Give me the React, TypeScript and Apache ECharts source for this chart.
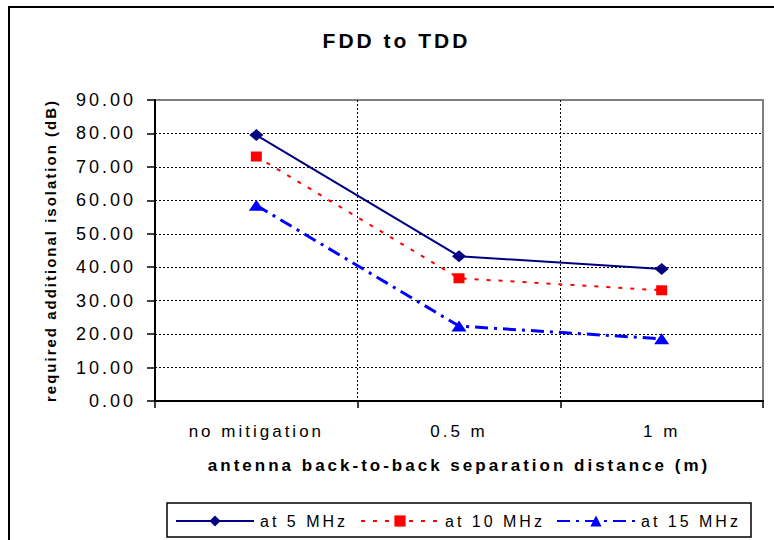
import React, { useEffect, useRef } from "react";
import * as echarts from "echarts";

const titleText = "FDD to TDD";
const categories = ["no mitigation", "0.5 m", "1 m"];
const seriesNames = ["at 5 MHz", "at 10 MHz", "at 15 MHz"];
const values5 = [79.5, 43.3, 39.5];
const values10 = [73.1, 36.7, 33.1];
const values15 = [58.5, 22.4, 18.6];
const yAxisName = "required additional isolation (dB)";
const xAxisName = "antenna back-to-back separation distance (m)";

const FONT = "'Liberation Sans', Arial, sans-serif";

export default function App() {
  const ref = useRef<HTMLDivElement>(null);
  useEffect(() => {
    if (!ref.current) return;
    const el = ref.current;
    const chart = echarts.init(el, undefined, { renderer: "svg" });
    const legendCommon = {
      top: 513,
      padding: 0,
      itemWidth: 78,
      itemHeight: 14,
      itemGap: 0,
      selectedMode: false as const,
      textStyle: { fontFamily: FONT, fontSize: 16, color: "#000", padding: [0, 0, 0, 1] },
    };
    chart.setOption({
      animation: false,
      backgroundColor: "#fff",
      textStyle: { fontFamily: FONT },
      grid: {
        left: 155,
        right: 11,
        top: 100,
        bottom: 139,
        show: true,
        borderColor: "#808080",
        borderWidth: 2,
        backgroundColor: "transparent",
      },
      legend: [
        { ...legendCommon, left: 175, data: [seriesNames[0]] },
        { ...legendCommon, left: 360, data: [seriesNames[1]] },
        { ...legendCommon, left: 556, data: [seriesNames[2]] },
      ],
      graphic: [
        {
          type: "rect",
          shape: { x: 9, y: 7, width: 820, height: 600 },
          style: { fill: "none", stroke: "#000", lineWidth: 2 },
          silent: true,
          z: 100,
        },
        {
          type: "rect",
          shape: { x: 167, y: 503, width: 584, height: 34 },
          style: { fill: "none", stroke: "#000", lineWidth: 1.5 },
          silent: true,
          z: 100,
        },
        {
          type: "text",
          x: 396.5,
          y: 40,
          style: {
            text: titleText,
            fontFamily: FONT,
            fontSize: 21,
            fontWeight: "bold",
            fill: "#000",
            align: "center",
            verticalAlign: "middle",
          },
          z: 100,
        },
      ],
      xAxis: {
        type: "category",
        data: categories,
        boundaryGap: true,
        name: xAxisName,
        nameLocation: "middle",
        nameGap: 56,
        nameTextStyle: { fontFamily: FONT, fontSize: 17, fontWeight: "bold", color: "#000" },
        axisLine: { show: true, lineStyle: { color: "#000", width: 2 } },
        axisTick: { show: true, length: 7, lineStyle: { color: "#000", width: 1.5 } },
        axisLabel: { fontFamily: FONT, fontSize: 17, color: "#000", margin: 22 },
        splitLine: {
          show: true,
          showMinLine: false,
          showMaxLine: false,
          lineStyle: { color: "#000", width: 1, type: [2, 2] },
        },
      },
      yAxis: {
        type: "value",
        min: 0,
        max: 90,
        interval: 10,
        name: yAxisName,
        nameLocation: "middle",
        nameGap: 97,
        nameTextStyle: { fontFamily: FONT, fontSize: 15, fontWeight: "bold", color: "#000" },
        axisLine: { show: true, lineStyle: { color: "#000", width: 2 } },
        axisTick: { show: true, length: 8, lineStyle: { color: "#000", width: 1.5 } },
        axisLabel: {
          fontFamily: FONT,
          fontSize: 18,
          color: "#000",
          margin: 19,
          formatter: (v: number) => v.toFixed(2),
        },
        splitLine: {
          show: true,
          showMinLine: false,
          showMaxLine: false,
          lineStyle: { color: "#000", width: 1, type: [2, 2] },
        },
      },
      series: [
        {
          name: seriesNames[0],
          type: "line",
          data: values5,
          symbol: "diamond",
          symbolSize: [14, 12],
          lineStyle: { color: "#000080", width: 2, type: "solid" },
          itemStyle: { color: "#000080" },
          z: 5,
        },
        {
          name: seriesNames[1],
          type: "line",
          data: values10,
          symbol: "rect",
          symbolSize: [11, 10],
          lineStyle: { color: "#ff0000", width: 2, type: [4, 8] },
          itemStyle: { color: "#ff0000" },
          z: 4,
        },
        {
          name: seriesNames[2],
          type: "line",
          data: values15,
          symbol: "triangle",
          symbolSize: [15, 11],
          lineStyle: { color: "#0000ff", width: 3, type: [13, 6, 3, 6] },
          itemStyle: { color: "#0000ff" },
          z: 3,
        },
      ],
    });
    const tighten = () => {
      el.querySelectorAll("text").forEach((t) => {
        if (t.textContent === yAxisName) {
          (t as SVGTextElement).style.letterSpacing = "2px";
        }
      });
    };
    tighten();
    chart.on("finished", tighten);
    return () => chart.dispose();
  }, []);
  return (
    <div
      ref={ref}
      style={{
        position: "absolute",
        left: 0,
        top: 0,
        width: 774,
        height: 540,
        letterSpacing: "3px",
      }}
    />
  );
}
